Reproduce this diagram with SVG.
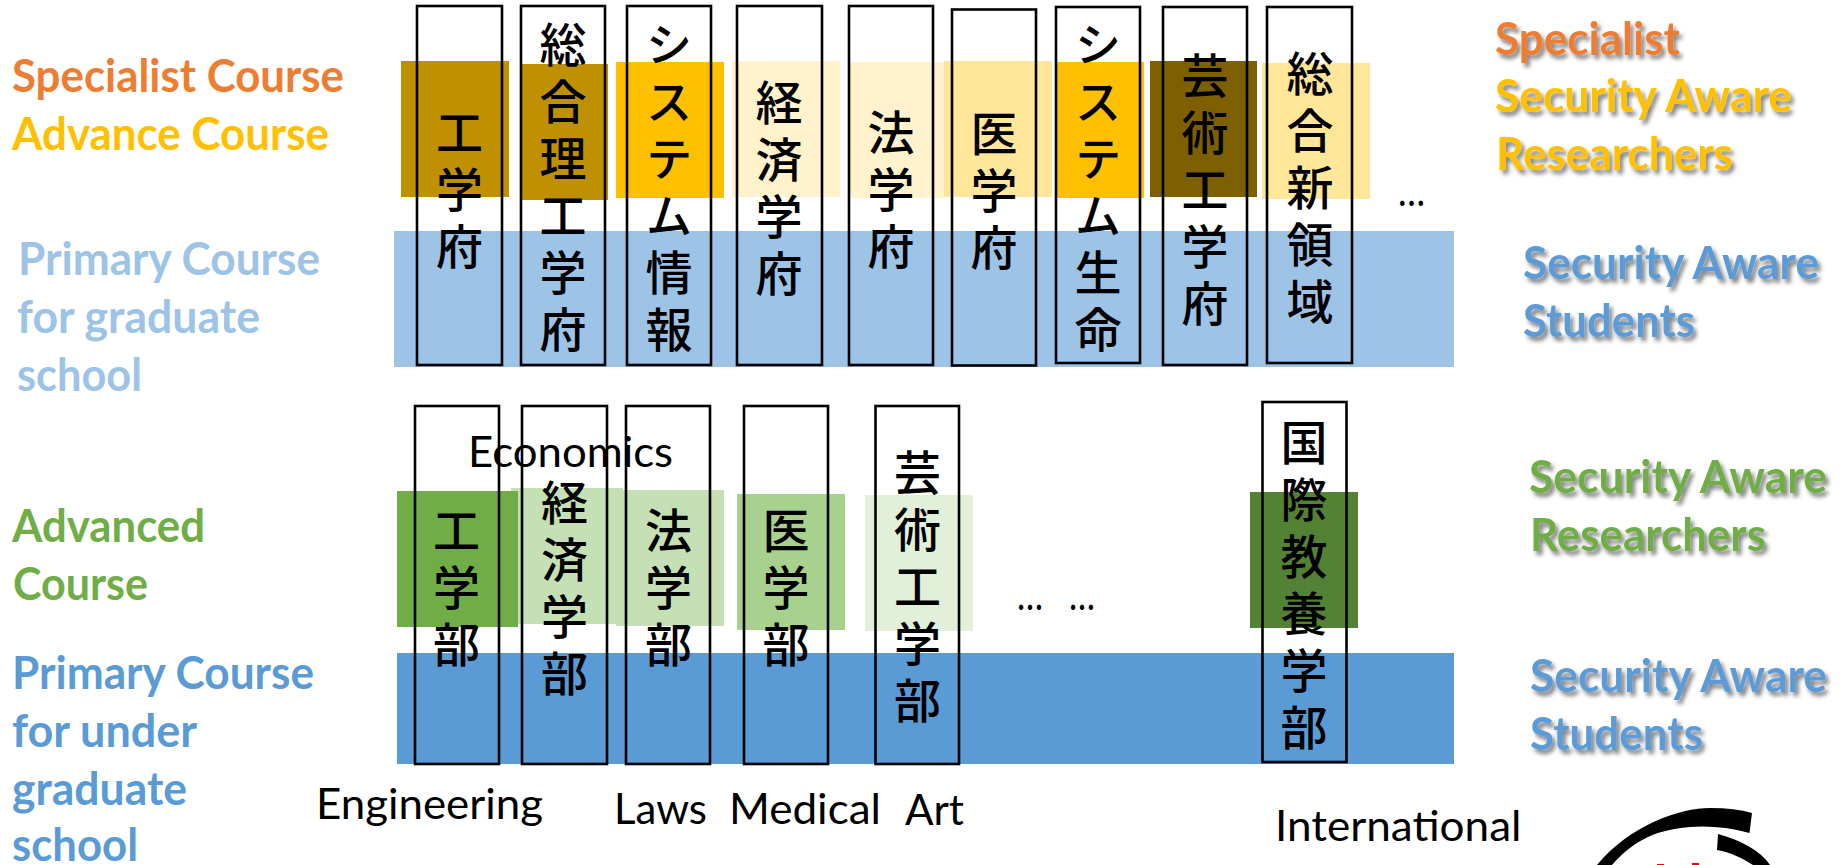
<svg xmlns="http://www.w3.org/2000/svg" width="1843" height="865" viewBox="0 0 1843 865">
<defs>
<filter id="shadow" x="-10%" y="-30%" width="125%" height="180%"><feDropShadow dx="3" dy="4" stdDeviation="2.2" flood-color="#000" flood-opacity="0.5"/></filter>
</defs>
<style>
.box{fill:none;stroke:#000;stroke-width:2.6}
.cjk{font-family:"Noto Sans CJK JP","Noto Sans CJK SC",sans-serif;font-size:47px;fill:#000;writing-mode:vertical-rl;letter-spacing:10px;font-weight:500}
.lab{font-family:Lato,"Open Sans",sans-serif;font-weight:700;font-size:45px}
.en{font-family:Lato,"Open Sans",sans-serif;font-size:42px;fill:#000}
.sh{filter:url(#shadow)}
.or{fill:#ED7D31}.go{fill:#FFC000}.lb{fill:#9DC3E6}.gr{fill:#70AD47}.bl{fill:#5B9BD5}
</style>
<rect width="1843" height="865" fill="#fff"/>
<g id="bands">
<rect x="394" y="231" width="1060" height="136" fill="#9DC3E6"/>
<rect x="401" y="61" width="108" height="136" fill="#BF9000"/>
<rect x="521" y="64" width="87" height="136" fill="#BF9000"/>
<rect x="616" y="62" width="108" height="136" fill="#FFC000"/>
<rect x="732" y="61" width="108" height="136" fill="#FFF2CC"/>
<rect x="849" y="62" width="95" height="136" fill="#FFF2CC"/>
<rect x="944" y="61" width="108" height="136" fill="#FFE699"/>
<rect x="1056" y="62" width="88" height="136" fill="#FFC000"/>
<rect x="1150" y="61" width="107" height="136" fill="#7F6000"/>
<rect x="1262" y="63" width="108" height="136" fill="#FFE699"/>
<rect x="397" y="653" width="1057" height="111" fill="#5B9BD5"/>
<rect x="511" y="488" width="112" height="136" fill="#C5E0B4"/>
<rect x="397" y="491" width="121" height="136" fill="#70AD47"/>
<rect x="616" y="490" width="108" height="136" fill="#C5E0B4"/>
<rect x="737" y="494" width="108" height="136" fill="#A9D18E"/>
<rect x="865" y="495" width="108" height="136" fill="#E2F0D9"/>
<rect x="1250" y="492" width="108" height="136" fill="#548235"/>
</g>
<g id="connectors"/>
<g id="g1"><rect class="box" x="417" y="6" width="85" height="359"/><text class="cjk" x="459.500" y="109">工学府</text></g>
<g id="g2"><rect class="box" x="521" y="6" width="84" height="359"/><text class="cjk" x="563" y="21">総合理工学府</text></g>
<g id="g3"><rect class="box" x="627" y="6" width="84" height="359"/><text class="cjk" x="669" y="21">システム情報</text></g>
<g id="g4"><rect class="box" x="737" y="6" width="85" height="359"/><text class="cjk" x="779" y="79">経済学府</text></g>
<g id="g5"><rect class="box" x="849" y="6" width="84" height="359"/><text class="cjk" x="891" y="109">法学府</text></g>
<g id="g6"><rect class="box" x="952" y="9.500" width="84" height="356"/><text class="cjk" x="994" y="110">医学府</text></g>
<g id="g7"><rect class="box" x="1056" y="7" width="84" height="356"/><text class="cjk" x="1098" y="21">システム生命</text></g>
<g id="g8"><rect class="box" x="1163" y="7" width="84" height="358"/><text class="cjk" x="1205" y="52">芸術工学府</text></g>
<g id="g9"><rect class="box" x="1267" y="7" width="85" height="356"/><text class="cjk" x="1310" y="50">総合新領域</text></g>
<g id="u1"><rect class="box" x="415" y="406" width="84" height="358"/><text class="cjk" x="456.500" y="507">工学部</text></g>
<g id="u2"><rect class="box" x="522" y="406" width="85" height="358"/><text class="cjk" x="564.500" y="479">経済学部</text></g>
<g id="u3"><rect class="box" x="626" y="406" width="84" height="358"/><text class="cjk" x="668.500" y="507">法学部</text></g>
<g id="u4"><rect class="box" x="744" y="406" width="84" height="358"/><text class="cjk" x="786" y="507">医学部</text></g>
<g id="u5"><rect class="box" x="875.500" y="406" width="83.500" height="358"/><text class="cjk" x="917.500" y="449">芸術工学部</text></g>
<g id="u6"><rect class="box" x="1262.500" y="402" width="84" height="360"/><text class="cjk" x="1304" y="419">国際教養学部</text></g>
<g id="labels-left">
<text class="lab or" x="12" y="92" textLength="332" lengthAdjust="spacingAndGlyphs">Specialist Course</text>
<text class="lab go" x="12" y="150" textLength="317" lengthAdjust="spacingAndGlyphs">Advance Course</text>
<text class="lab lb" x="18" y="275" textLength="302" lengthAdjust="spacingAndGlyphs">Primary Course</text>
<text class="lab lb" x="17" y="333" textLength="243" lengthAdjust="spacingAndGlyphs">for graduate</text>
<text class="lab lb" x="17" y="391" textLength="125" lengthAdjust="spacingAndGlyphs">school</text>
<text class="lab gr" x="12" y="542" textLength="193" lengthAdjust="spacingAndGlyphs">Advanced</text>
<text class="lab gr" x="13" y="600" textLength="135" lengthAdjust="spacingAndGlyphs">Course</text>
<text class="lab bl" x="12" y="689" textLength="302" lengthAdjust="spacingAndGlyphs">Primary Course</text>
<text class="lab bl" x="12" y="747" textLength="185" lengthAdjust="spacingAndGlyphs">for under</text>
<text class="lab bl" x="12" y="805" textLength="175" lengthAdjust="spacingAndGlyphs">graduate</text>
<text class="lab bl" x="12" y="861" textLength="126" lengthAdjust="spacingAndGlyphs">school</text>
</g>
<g id="labels-right" class="sh">
<text class="lab or" x="1495" y="55" textLength="185" lengthAdjust="spacingAndGlyphs">Specialist</text>
<text class="lab go" x="1495" y="112" textLength="297" lengthAdjust="spacingAndGlyphs">Security Aware</text>
<text class="lab go" x="1496" y="170" textLength="237" lengthAdjust="spacingAndGlyphs">Researchers</text>
<text class="lab bl" x="1523" y="279" textLength="296" lengthAdjust="spacingAndGlyphs">Security Aware</text>
<text class="lab bl" x="1523" y="337" textLength="172" lengthAdjust="spacingAndGlyphs">Students</text>
<text class="lab gr" x="1529" y="493" textLength="298" lengthAdjust="spacingAndGlyphs">Security Aware</text>
<text class="lab gr" x="1530" y="551" textLength="236" lengthAdjust="spacingAndGlyphs">Researchers</text>
<text class="lab bl" x="1530" y="692" textLength="297" lengthAdjust="spacingAndGlyphs">Security Aware</text>
<text class="lab bl" x="1530" y="750" textLength="173" lengthAdjust="spacingAndGlyphs">Students</text>
</g>
<g id="labels-english">
<text class="en" x="468" y="467" textLength="205" lengthAdjust="spacingAndGlyphs">Economics</text>
<text class="en" x="316" y="819" textLength="227" lengthAdjust="spacingAndGlyphs">Engineering</text>
<text class="en" x="614" y="824" textLength="93" lengthAdjust="spacingAndGlyphs">Laws</text>
<text class="en" x="729" y="824" textLength="152" lengthAdjust="spacingAndGlyphs">Medical</text>
<text class="en" x="905" y="825" textLength="59" lengthAdjust="spacingAndGlyphs">Art</text>
<text class="en" x="1275" y="841" textLength="246.500" lengthAdjust="spacingAndGlyphs">International</text>
<text class="en" x="1398" y="206" textLength="27" lengthAdjust="spacingAndGlyphs">…</text>
<text class="en" x="1017" y="610" textLength="26" lengthAdjust="spacingAndGlyphs">…</text>
<text class="en" x="1069" y="610" textLength="26" lengthAdjust="spacingAndGlyphs">…</text>
</g>
<g id="logo">
<path d="M1597,865C1630,825 1680,808 1710,808Q1735,808 1752,813L1749.500,833Q1720,825 1690,827C1650,830 1630,845 1612,865Z" fill="#000"/>
<path d="M1718,834C1740,840 1760,850 1770,865L1753,865C1742,858 1730,852 1717,850Z" fill="#000"/>
<rect x="1657" y="864" width="7" height="1" fill="#f00"/>
<rect x="1692" y="863" width="7" height="2" fill="#f00"/>
</g>
</svg>
